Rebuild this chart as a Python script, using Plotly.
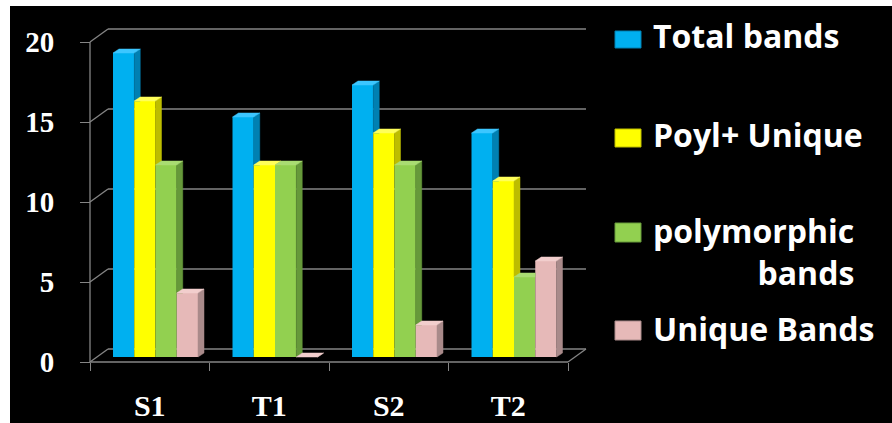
import plotly.graph_objects as go

# ---- data -------------------------------------------------------------
categories = ["S1", "T1", "S2", "T2"]
total_bands = [19, 15, 17, 14]
poyl_unique = [16, 12, 14, 11]
polymorphic_bands = [12, 12, 12, 5]
unique_bands = [4, 0, 2, 6]
series_names = ["Total bands", "Poyl+ Unique", "polymorphic<br>bands", "Unique Bands"]
y_ticks = [0, 5, 10, 15, 20]

series = [total_bands, poyl_unique, polymorphic_bands, unique_bands]

# ---- styling ----------------------------------------------------------
front_col = ["#00B0F0", "#FFFF00", "#92D050", "#E6B9B8"]
side_col = ["#0080B2", "#BDBD00", "#66993A", "#A98A8A"]
top_col = ["#3CC6FF", "#FFFF5A", "#A9DC72", "#F2CECD"]
grid_col = "#858585"

# pseudo-3D geometry (axis units: 1 x-unit = one category, 1 y-unit = one band)
PX_X = 119.5            # pixels per category
PX_Y = 16.0             # pixels per band
WALL_DX, WALL_DY = 18 / PX_X, 13 / PX_Y   # depth of the chart box
BAR_DX, BAR_DY = 6 / PX_X, 4 / PX_Y       # depth of each bar
BASE = 5 / PX_Y                           # bars stand a little inside the floor
BAR_W = 21.25 / PX_X
GROUP_START = 23 / PX_X

# plot area in pixels: x 10..892, y 6..423 ; floor front edge at y=362, y-axis at x=90
X0_PX, Y_FLOOR_PX = 90, 362
PLOT_L, PLOT_R, PLOT_T, PLOT_B = 10, 892, 6, 423


def side_poly(e, h, hn):
    """Visible part of the right side face of a bar whose neighbour has height hn."""
    b = BASE
    if hn is None:
        return [(e, b), (e + BAR_DX, b + BAR_DY), (e + BAR_DX, b + h + BAR_DY), (e, b + h)]
    if hn >= h + BAR_DY:
        return []
    if hn <= h:
        if hn < BAR_DY:
            return [(e, b + hn), (e + BAR_DX * hn / BAR_DY, b + hn), (e + BAR_DX, b + BAR_DY),
                    (e + BAR_DX, b + h + BAR_DY), (e, b + h)]
        return [(e, b + hn), (e + BAR_DX, b + hn), (e + BAR_DX, b + h + BAR_DY), (e, b + h)]
    t0 = (hn - h) / BAR_DY
    return [(e + BAR_DX * t0, b + hn), (e + BAR_DX, b + hn), (e + BAR_DX, b + h + BAR_DY)]


def top_poly(s, e, h, hn):
    """Visible part of the top face of a bar whose neighbour has height hn."""
    y0 = BASE + h
    y1 = y0 + BAR_DY
    if hn is not None and hn >= h + BAR_DY:
        return [(s, y0), (e, y0), (e, y1), (s + BAR_DX, y1)]
    if hn is not None and hn > h:
        t0 = (hn - h) / BAR_DY
        return [(s, y0), (e, y0), (e, BASE + hn), (e + BAR_DX * t0, BASE + hn),
                (e + BAR_DX, y1), (s + BAR_DX, y1)]
    return [(s, y0), (e, y0), (e + BAR_DX, y1), (s + BAR_DX, y1)]


def to_xy(polys):
    xs, ys = [], []
    for p in polys:
        if not p:
            continue
        for (x, y) in p + [p[0]]:
            xs.append(x)
            ys.append(y)
        xs.append(None)
        ys.append(None)
    return xs, ys


fig = go.Figure()

# front faces as bars
for k, vals in enumerate(series):
    xs = [i + GROUP_START + k * BAR_W + BAR_W / 2 for i in range(len(categories))]
    fig.add_trace(go.Bar(
        x=xs, y=vals, base=BASE, width=BAR_W,
        marker=dict(color=front_col[k], line=dict(width=0)),
        name=series_names[k].replace("<br>", " "),
        customdata=categories,
        hovertemplate="%{customdata}: %{y}<extra>%{fullData.name}</extra>",
        showlegend=False,
    ))

# side and top faces
for k, vals in enumerate(series):
    nxt = series[k + 1] if k + 1 < len(series) else None
    sides, tops = [], []
    for i, h in enumerate(vals):
        s = i + GROUP_START + k * BAR_W
        e = s + BAR_W
        hn = nxt[i] if nxt is not None else None
        sides.append(side_poly(e, h, hn))
        tops.append(top_poly(s, e, h, hn))
    for polys, col in ((sides, side_col[k]), (tops, top_col[k])):
        px, py = to_xy(polys)
        fig.add_trace(go.Scatter(
            x=px, y=py, mode="lines", fill="toself", fillcolor=col,
            line=dict(color=col, width=0.5), hoverinfo="skip", showlegend=False,
        ))

# chart box: back-wall gridlines, left-wall connectors, floor edges
n = len(categories)
shapes = []
for v in y_ticks:
    shapes.append(dict(type="line", xref="x", yref="y", x0=WALL_DX, x1=n + WALL_DX,
                       y0=v + WALL_DY, y1=v + WALL_DY, line=dict(color=grid_col, width=1.3),
                       layer="below"))
    shapes.append(dict(type="line", xref="x", yref="y", x0=0, x1=WALL_DX,
                       y0=v, y1=v + WALL_DY, line=dict(color=grid_col, width=1.3),
                       layer="below"))
shapes.append(dict(type="line", xref="x", yref="y", x0=0, x1=0, y0=0, y1=y_ticks[-1],
                   line=dict(color=grid_col, width=1.3), layer="below"))
shapes.append(dict(type="line", xref="x", yref="y", x0=0, x1=n, y0=0, y1=0,
                   line=dict(color=grid_col, width=1.3), layer="below"))
shapes.append(dict(type="line", xref="x", yref="y", x0=n, x1=n + WALL_DX, y0=0, y1=WALL_DY,
                   line=dict(color=grid_col, width=1.3), layer="below"))


# legend (drawn by hand, right side)
def fx(px):
    return (px - PLOT_L) / (PLOT_R - PLOT_L)


def fy(py):
    return (PLOT_B - py) / (PLOT_B - PLOT_T)


legend_marker_y = [(31, 48), (129, 147), (223, 242), (321, 340)]
legend_text_y = [35.5, 134.5, 251, 328]
annotations = []
for k, name in enumerate(series_names):
    y_top, y_bot = legend_marker_y[k]
    shapes.append(dict(type="rect", xref="paper", yref="paper",
                       x0=fx(615), x1=fx(641), y0=fy(y_bot), y1=fy(y_top),
                       fillcolor=front_col[k], line=dict(color=side_col[k], width=1)))
    annotations.append(dict(
        xref="paper", yref="paper", x=fx(651), y=fy(legend_text_y[k]),
        xanchor="left", yanchor="middle", align="right", showarrow=False,
        text=name, font=dict(family="Open Sans", size=32, color="white", weight="bold"),
    ))

y_tick_font = dict(family="Liberation Serif", size=29, color="white", weight="bold")
x_tick_font = dict(family="Liberation Serif", size=30, color="white", weight="bold")

fig.update_layout(
    width=892, height=423,
    margin=dict(l=PLOT_L, r=0, t=PLOT_T, b=0),
    paper_bgcolor="white", plot_bgcolor="black",
    barmode="overlay", showlegend=False,
    shapes=shapes, annotations=annotations,
    xaxis=dict(
        range=[(PLOT_L - X0_PX) / PX_X, (PLOT_R - X0_PX) / PX_X],
        showgrid=False, zeroline=False, showline=False,
        tickmode="array", tickvals=[i + 0.5 for i in range(n)], ticktext=categories,
        ticks="", tickfont=x_tick_font, ticklabelstandoff=23,
        anchor="free", position=(PLOT_B - Y_FLOOR_PX) / (PLOT_B - PLOT_T),
        minor=dict(tickmode="array", tickvals=list(range(n + 1)), ticks="outside",
                   ticklen=8, tickcolor=grid_col, tickwidth=1.3),
        fixedrange=True,
    ),
    yaxis=dict(
        range=[-(PLOT_B - Y_FLOOR_PX) / PX_Y, (Y_FLOOR_PX - PLOT_T) / PX_Y],
        showgrid=False, zeroline=False, showline=False,
        tickmode="array", tickvals=y_ticks,
        ticks="outside", ticklen=10, tickcolor=grid_col, tickwidth=1.3,
        tickfont=y_tick_font, ticklabelstandoff=20,
        anchor="free", position=(X0_PX - PLOT_L) / (PLOT_R - PLOT_L),
        fixedrange=True,
    ),
)

fig.write_html("out.html")
